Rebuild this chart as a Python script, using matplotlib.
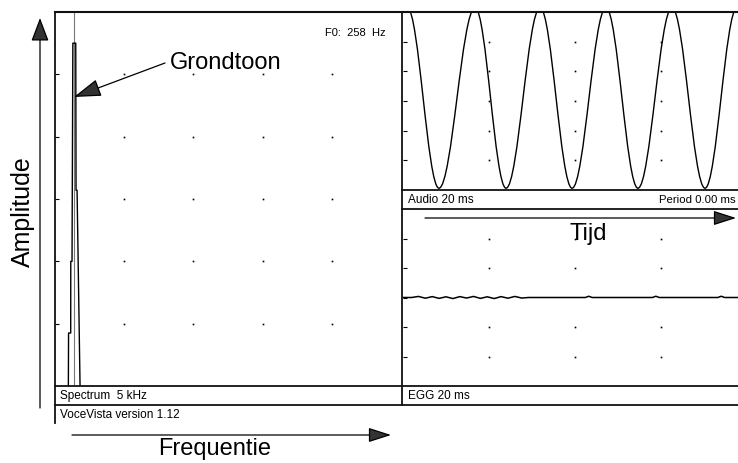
import numpy as np
import matplotlib.pyplot as plt
from matplotlib.path import Path
from matplotlib.patches import PathPatch

plt.rcParams['font.family'] = ['Liberation Sans', 'DejaVu Sans']

W, H = 738, 463

# spectrum trace (Hz, dB)
spec_hz = [193, 196, 227, 228, 246, 258, 300, 304, 319, 362]
spec_db = [-60, -51.5, -51.5, -40, -40, -5, -5, -28.6, -28.6, -60]
cursor_hz = 268
f0_label = 'F0:  258  Hz'

# audio waveform: times (ms) of the extrema and their levels (peaks run past the top)
audio_ext_ms = [0.25, 2.09, 4.19, 5.99, 7.97, 9.83, 11.8, 13.66, 15.64, 17.56, 19.42]
audio_ext_val = [1.05, -0.98, 1.05, -0.98, 1.05, -0.98, 1.05, -0.98, 1.05, -0.98, 1.05]

# EGG trace (almost flat)
egg_ms = [0, 0.5, 0.9, 1.3, 1.7, 2.1, 2.5, 2.9, 3.3, 3.7, 4.1, 4.5, 4.9, 5.3, 5.7,
          6.1, 6.5, 6.9, 7.3, 10.6, 10.8, 11.0, 14.5, 14.7, 14.9, 18.3, 18.5, 18.7, 20]
egg_val = [0, 0, 0.012, -0.008, 0.01, -0.01, 0.008, -0.012, 0.01, -0.006, 0.012, -0.01,
           0.008, -0.012, 0.01, -0.008, 0.012, -0.006, 0, 0, 0.014, 0, 0, 0.014, 0,
           0, 0.014, 0, 0]

spec_grid_x = [1000, 2000, 3000, 4000]
spec_grid_y = [-50, -40, -30, -20, -10]
time_grid_x = [5, 10, 15]
time_grid_y = [-2/3, -1/3, 0, 1/3, 2/3]


def box(x0, y0, x1, y1):
    return [x0 / W, 1 - y1 / H, (x1 - x0) / W, (y1 - y0) / H]


def panel(rect, xlim, ylim, yt):
    ax = fig.add_axes(rect)
    ax.set_xlim(*xlim)
    ax.set_ylim(*ylim)
    for s in ax.spines.values():
        s.set_visible(False)
    ax.set_xticks([])
    ax.set_yticks(yt)
    ax.set_yticklabels([])
    ax.tick_params(axis='y', direction='in', length=3, width=0.8, pad=0)
    ax.patch.set_alpha(0)
    return ax


def dots(ax, xs, ys):
    gx, gy = np.meshgrid(xs, ys)
    ax.plot(gx.ravel(), gy.ravel(), 's', color='black', ms=1.2, mew=0, zorder=1)


fig = plt.figure(figsize=(W / 100, H / 100), dpi=100)

# spectrum
ax_sp = panel(box(55, 12, 401, 386), (0, 5000), (-60, 0), spec_grid_y)
dots(ax_sp, spec_grid_x, spec_grid_y)
ax_sp.axvline(cursor_hz, color='#777777', lw=0.8)
ax_sp.plot(spec_hz, spec_db, color='black', lw=1.0)

# audio
ax_au = panel(box(403, 12, 747, 190), (0, 20), (-1, 1), time_grid_y)
dots(ax_au, time_grid_x, time_grid_y)
k = 0.364
verts = [(audio_ext_ms[0], audio_ext_val[0])]
codes = [Path.MOVETO]
for i in range(1, len(audio_ext_ms)):
    t0, v0 = audio_ext_ms[i - 1], audio_ext_val[i - 1]
    t1, v1 = audio_ext_ms[i], audio_ext_val[i]
    dt = t1 - t0
    verts += [(t0 + k * dt, v0), (t1 - k * dt, v1), (t1, v1)]
    codes += [Path.CURVE4] * 3
ax_au.add_patch(PathPatch(Path(verts, codes), fc='none', ec='black', lw=1.0))

# EGG
ax_eg = panel(box(403, 209, 747, 386), (0, 20), (-1, 1), time_grid_y)
dots(ax_eg, time_grid_x, [-2/3, -1/3, 1/3, 2/3])
ax_eg.plot(egg_ms, egg_val, color='black', lw=1.1)

# overlay: frames, labels, arrows
ov = fig.add_axes([0, 0, 1, 1])
ov.set_xlim(0, W)
ov.set_ylim(H, 0)
ov.axis('off')
ov.patch.set_alpha(0)

lc = '#111111'
ov.plot([55, W], [12, 12], color=lc, lw=1.5)
ov.plot([55, 55], [12, 423], color=lc, lw=1.3)
ov.plot([402, 402], [12, 405], color=lc, lw=1.3)
ov.plot([55, W], [386, 386], color=lc, lw=1.3)
ov.plot([55, W], [405, 405], color=lc, lw=1.3)
ov.plot([402, W], [190, 190], color=lc, lw=1.3)
ov.plot([402, W], [209, 209], color=lc, lw=1.3)

small = 8.5
ov.text(325, 33, f0_label, fontsize=small - 0.5, va='center', ha='left')
ov.text(60, 396, 'Spectrum  5 kHz', fontsize=small, va='center', ha='left')
ov.text(60, 415, 'VoceVista version 1.12', fontsize=small, va='center', ha='left')
ov.text(408, 396, 'EGG 20 ms', fontsize=small, va='center', ha='left')
ov.text(408, 200, 'Audio 20 ms', fontsize=small, va='center', ha='left')
ov.text(736, 200, 'Period 0.00 ms', fontsize=small - 0.3, va='center', ha='right')

big = 17
ov.text(170, 63, 'Grondtoon', fontsize=big, va='center', ha='left')
ov.text(23, 212, 'Amplitude', fontsize=18, va='center', ha='center', rotation=90)
ov.text(215, 449, 'Frequentie', fontsize=big, va='center', ha='center')
ov.text(588, 234, 'Tijd', fontsize=big, va='center', ha='center')


def arrow(x0, y0, x1, y1, hl, hw):
    ov.annotate('', xy=(x1, y1), xytext=(x0, y0),
                arrowprops=dict(arrowstyle=f'-|>,head_length={hl},head_width={hw}',
                                mutation_scale=10, lw=0.9, color='black',
                                fc='#333333', shrinkA=0, shrinkB=0))


arrow(40, 408, 40, 18, 1.45, 0.55)
arrow(72, 435, 391, 435, 1.4, 0.45)
arrow(425, 218, 736, 218, 1.4, 0.45)
arrow(165, 63, 74, 97, 1.7, 0.55)

fig.savefig('out.png', dpi=100)
